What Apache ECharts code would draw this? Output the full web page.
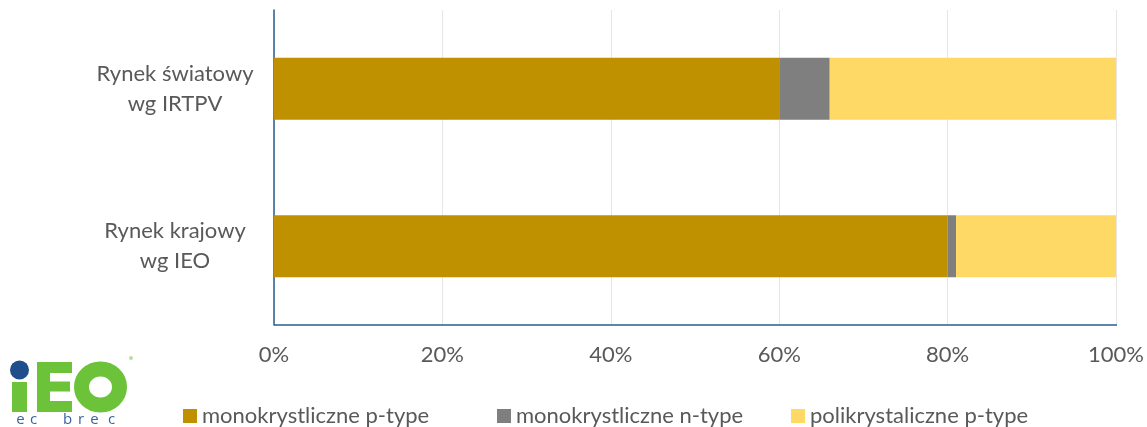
<!DOCTYPE html>
<html><head><meta charset="utf-8">
<script src="https://cdn.jsdelivr.net/npm/echarts@6/dist/echarts.min.js"></script>
<style>html,body{margin:0;padding:0;background:#fff}#c{width:1147px;height:427px}</style>
</head><body><div id="c"></div>
<script>
const categories = ['Rynek światowy\nwg IRTPV', 'Rynek krajowy\nwg IEO'];
const seriesNames = ['monokrystliczne p-type', 'monokrystliczne n-type', 'polikrystaliczne p-type'];
const monoP = [60, 80];
const monoN = [6, 1];
const polyP = [34, 19];
const colors = ['#BF9000', '#7F7F7F', '#FFD966'];
const FONT = 'Lato';
const TXT = '#595959';
const AX = '#2B5C8F';

const chart = echarts.init(document.getElementById('c'));
const values = [monoP, monoN, polyP];
const legendLefts = [183, 497, 791];
chart.setOption({
  animation: false,
  textStyle: {fontFamily: FONT},
  grid: {left: 274, right: 30, top: 10, bottom: 102},
  xAxis: {
    type: 'value', min: 0, max: 100, interval: 20,
    axisLine: {show: false}, axisTick: {show: false},
    splitLine: {show: true, lineStyle: {color: '#E6E6E6', width: 1}},
    axisLabel: {formatter: '{value}%', color: TXT, fontSize: 22, margin: 19, fontFamily: FONT}
  },
  yAxis: {
    type: 'category', data: categories, inverse: true,
    axisLine: {show: true, lineStyle: {color: AX, width: 1.5}},
    axisTick: {show: false},
    axisLabel: {color: TXT, fontSize: 22, lineHeight: 30, align: 'center', margin: 99, fontFamily: FONT}
  },
  legend: legendLefts.map((l, i) => ({
    left: l, top: 405, padding: 0, itemWidth: 14, itemHeight: 14, icon: 'rect',
    data: [seriesNames[i]],
    textStyle: {color: TXT, fontSize: 22, fontFamily: FONT}
  })),
  series: seriesNames.map((n, i) => ({
    name: n, type: 'bar', stack: 'all', barWidth: 62,
    itemStyle: {color: colors[i]},
    data: values[i]
  })),
  graphic: [
    {type: 'line', shape: {x1: 274, y1: 325, x2: 1117, y2: 325}, style: {stroke: AX, lineWidth: 1.5}, z: 10},
    {type: 'circle', shape: {cx: 19.5, cy: 370, r: 9.5}, style: {fill: '#1E4E8C'}},
    {type: 'rect', shape: {x: 12, y: 382, width: 15, height: 30}, style: {fill: '#6CC33A'}},
    {type: 'rect', shape: {x: 37, y: 362, width: 13, height: 50}, style: {fill: '#6CC33A'}},
    {type: 'rect', shape: {x: 37, y: 362, width: 35, height: 11}, style: {fill: '#6CC33A'}},
    {type: 'rect', shape: {x: 37, y: 381.5, width: 33, height: 10}, style: {fill: '#6CC33A'}},
    {type: 'rect', shape: {x: 37, y: 401, width: 35, height: 11}, style: {fill: '#6CC33A'}},
    {type: 'ellipse', shape: {cx: 100.5, cy: 387, rx: 19, ry: 18}, style: {fill: 'none', stroke: '#6CC33A', lineWidth: 15}},
    {type: 'circle', shape: {cx: 131, cy: 358, r: 2}, style: {fill: '#B8DFA0'}},
    ...[['e', 20.5], ['c', 33.5], ['b', 67.5], ['r', 81], ['e', 94.5], ['c', 111.5]].map(([ch, x]) => ({
      type: 'text', style: {text: ch, x: x, y: 420, fill: '#3A64A0', font: '15px "Open Sans"', textAlign: 'center', textVerticalAlign: 'middle'}
    }))
  ]
});
</script></body></html>
